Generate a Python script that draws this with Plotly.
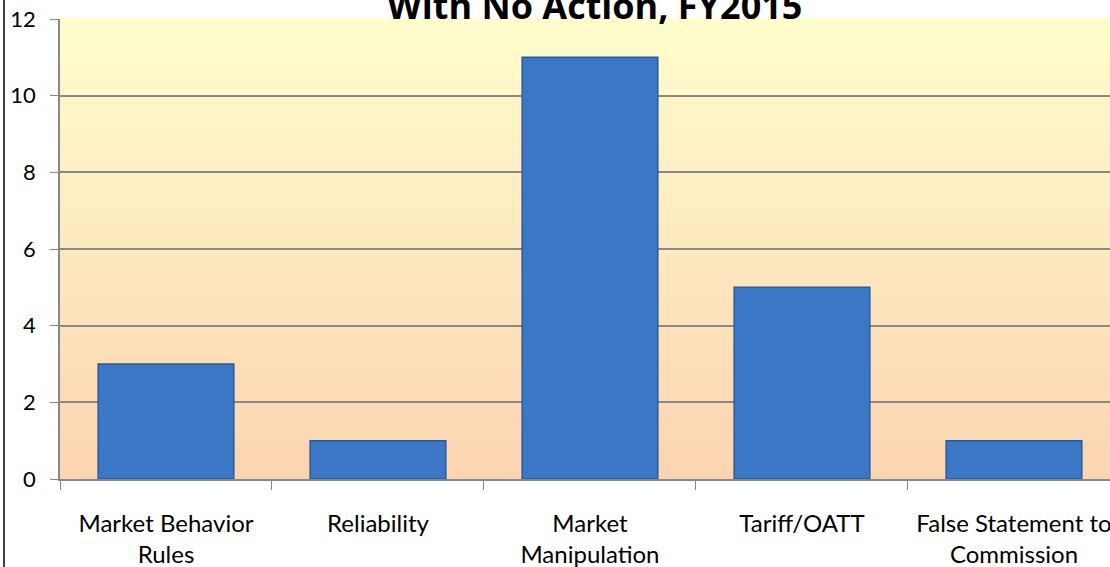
import plotly.graph_objects as go

categories = ['Market Behavior<br>Rules', 'Reliability', 'Market<br>Manipulation',
              'Tariff/OATT', 'False Statement to<br>Commission']
counts = [3, 1, 11, 5, 1]
y_ticks = [0, 2, 4, 6, 8, 10, 12]

fig = go.Figure()

fig.add_trace(go.Bar(
    x=categories,
    y=counts,
    width=0.64,
    marker=dict(color='#3C77C5', line=dict(color='#2B5A99', width=1.5)),
))

# vertical gradient background (light yellow at top -> peach at bottom)
top = (255, 253, 204)
bottom = (252, 212, 178)
n_bands = 60
shapes = []
for i in range(n_bands):
    t = i / (n_bands - 1)
    r = round(bottom[0] + (top[0] - bottom[0]) * t)
    g = round(bottom[1] + (top[1] - bottom[1]) * t)
    b = round(bottom[2] + (top[2] - bottom[2]) * t)
    shapes.append(dict(
        type='rect', xref='paper', yref='paper', layer='below',
        x0=0, x1=1, y0=i / n_bands, y1=(i + 1) / n_bands + 0.002,
        fillcolor=f'rgb({r},{g},{b})', line=dict(width=0),
    ))

# black frame line at the left edge of the image
shapes.append(dict(type='line', xref='paper', yref='paper',
                   x0=-0.0533, x1=-0.0533, y0=-0.3, y1=1.1,
                   line=dict(color='black', width=1.5)))

fig.update_layout(
    width=1110,
    height=567,
    margin=dict(l=60, r=0, t=19, b=88, autoexpand=False),
    paper_bgcolor='white',
    plot_bgcolor='rgba(0,0,0,0)',
    shapes=shapes,
    showlegend=False,
    font=dict(family='Lato, Open Sans, sans-serif', size=24, color='black'),
    xaxis=dict(
        type='category',
        range=[-0.5, 4.453],
        automargin=False,
        tickson='boundaries',
        ticks='outside',
        ticklen=9,
        tickcolor='#888888',
        ticklabelstandoff=22,
        showline=True,
        linecolor='#888888',
        linewidth=1.5,
        showgrid=False,
        tickfont=dict(size=24),
    ),
    yaxis=dict(
        range=[0, 12],
        automargin=False,
        tickvals=y_ticks,
        ticks='outside',
        ticklen=8,
        tickcolor='#888888',
        ticklabelstandoff=10,
        showline=True,
        linecolor='#888888',
        linewidth=1.5,
        gridcolor='#888888',
        gridwidth=1.5,
        zeroline=False,
        tickfont=dict(size=22),
    ),
    annotations=[dict(
        text='<b>With No Action, FY2015</b>',
        xref='paper', yref='paper', x=0.5, y=1.0,
        xshift=9, yshift=-13, yanchor='bottom', showarrow=False,
        font=dict(size=36, family='Open Sans, sans-serif', color='black'),
    )],
)

# drop the default page margin so the figure sits at the window's corner
fig.write_html("out.html", config={'displayModeBar': False},
               post_script="document.body.style.margin = '0';")
